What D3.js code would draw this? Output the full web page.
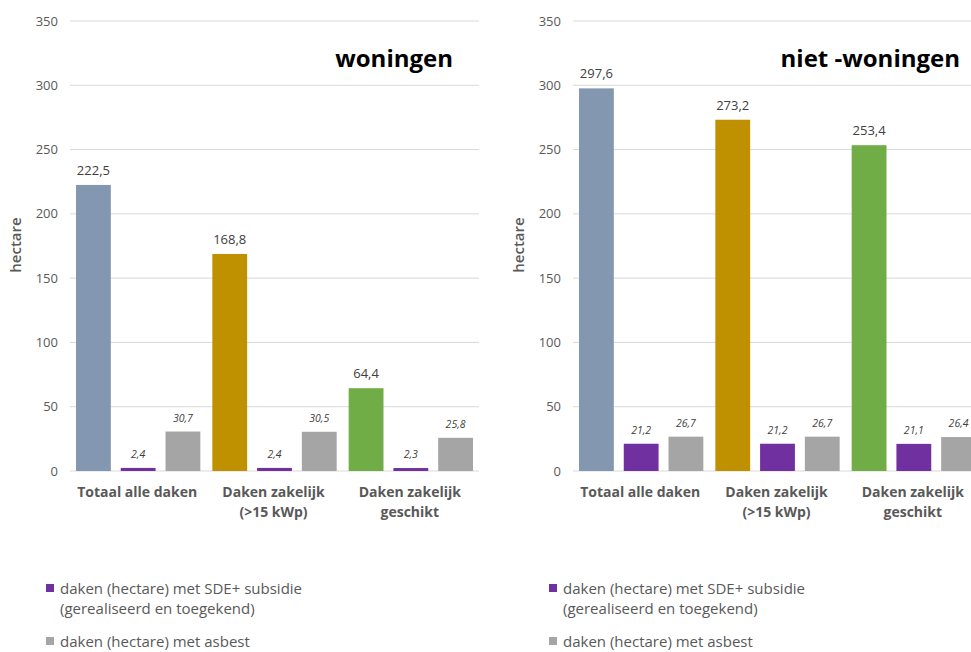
<!DOCTYPE html>
<html>
<head>
<meta charset="utf-8">
<script src="https://cdn.jsdelivr.net/npm/d3@7"></script>
<style>
  body { margin: 0; background: #fff; }
  svg { display: block; font-family: 'Open Sans', sans-serif; }
</style>
</head>
<body>
<svg id="chart" width="971" height="652"></svg>
<script>
// categorieën (x-as), twee regels per label
const categories = ['Totaal alle daken', 'Daken zakelijk (>15 kWp)', 'Daken zakelijk geschikt']
const category_lines = [['Totaal alle daken'], ['Daken zakelijk', '(>15 kWp)'], ['Daken zakelijk', 'geschikt']]
const series = ['totaal', 'sde', 'asbest']

// woningen
const woningen_totaal = [222.5, 168.8, 64.4]
const woningen_sde = [2.4, 2.4, 2.3]
const woningen_asbest = [30.7, 30.5, 25.8]

// niet-woningen
const niet_totaal = [297.6, 273.2, 253.4]
const niet_sde = [21.2, 21.2, 21.1]
const niet_asbest = [26.7, 26.7, 26.4]

const y_ticks = [0, 50, 100, 150, 200, 250, 300, 350]
const legend_items = [
  { key: 'sde', lines: ['daken (hectare) met SDE+ subsidie', '(gerealiseerd en toegekend)'] },
  { key: 'asbest', lines: ['daken (hectare) met asbest'] }
]

// kleuren
const total_colors = ['#8497B0', '#BF9000', '#70AD47']
const series_color = { sde: '#7030A0', asbest: '#A5A5A5' }
const text_grey = '#595959'

const fmt = v => v.toFixed(1).replace('.', ',')

const svg = d3.select('#chart')

// Maakt een paneel: offset x, titel en de drie reeksen
const create_panel = (opts) => {
  const { left, title, title_right, totaal, sde, asbest } = opts
  const top = 21, bottom = 471, width = 409

  const g = svg.append('g')

  const y = d3.scaleLinear().domain([0, 350]).range([bottom, top])
  const x = d3.scaleBand().domain(categories).range([left, left + width])
  const x_inner = d3.scaleBand().domain(series)
    .range([6, x.bandwidth() - 6]).paddingInner(0.222)

  // rasterlijnen
  g.selectAll('.grid')
    .data(y_ticks)
    .enter()
    .append('line')
    .attr('x1', left).attr('x2', left + width)
    .attr('y1', d => y(d)).attr('y2', d => y(d))
    .attr('stroke', '#D9D9D9').attr('stroke-width', 1)

  // y as labels
  g.selectAll('.ytick')
    .data(y_ticks)
    .enter()
    .append('text')
    .attr('x', left - 12)
    .attr('y', d => y(d))
    .attr('dy', '0.35em')
    .attr('text-anchor', 'end')
    .attr('font-size', 13)
    .attr('fill', text_grey)
    .text(d => d)

  // as titel
  g.append('text')
    .attr('transform', `translate(${left - 49}, 245) rotate(-90)`)
    .attr('text-anchor', 'middle')
    .attr('font-size', 15)
    .attr('font-weight', 600)
    .attr('fill', text_grey)
    .text('hectare')

  // data per balk
  const rows = []
  categories.forEach((c, i) => {
    rows.push({ cat: c, key: 'totaal', value: totaal[i], color: total_colors[i] })
    rows.push({ cat: c, key: 'sde', value: sde[i], color: series_color.sde })
    rows.push({ cat: c, key: 'asbest', value: asbest[i], color: series_color.asbest })
  })

  g.selectAll('.bar')
    .data(rows)
    .enter()
    .append('rect')
    .attr('x', d => x(d.cat) + x_inner(d.key))
    .attr('y', d => y(d.value))
    .attr('width', x_inner.bandwidth())
    .attr('height', d => y(0) - y(d.value))
    .attr('fill', d => d.color)

  // waarde labels
  g.selectAll('.val')
    .data(rows)
    .enter()
    .append('text')
    .attr('x', d => x(d.cat) + x_inner(d.key) + x_inner.bandwidth() / 2)
    .attr('y', d => y(d.value) - 10)
    .attr('text-anchor', 'middle')
    .attr('font-size', d => d.key == 'totaal' ? 13 : 10.5)
    .attr('font-style', d => d.key == 'totaal' ? 'normal' : 'italic')
    .attr('fill', '#404040')
    .text(d => fmt(d.value))

  // categorie labels
  const cat_g = g.selectAll('.cat')
    .data(categories)
    .enter()
    .append('text')
    .attr('text-anchor', 'middle')
    .attr('font-size', 14)
    .attr('font-weight', 'bold')
    .attr('fill', text_grey)

  cat_g.selectAll('tspan')
    .data((d, i) => category_lines[i].map(l => ({ line: l, cat: d })))
    .enter()
    .append('tspan')
    .attr('x', d => x(d.cat) + x.bandwidth() / 2 - 1)
    .attr('y', (d, i) => 497 + i * 20)
    .text(d => d.line)

  // titel
  g.append('text')
    .attr('x', title_right)
    .attr('y', 67)
    .attr('text-anchor', 'end')
    .attr('font-size', 24)
    .attr('font-weight', 'bold')
    .attr('fill', '#000')
    .text(title)

  // legenda
  const leg = g.append('g').attr('transform', `translate(${left - 24}, 0)`)
  legend_items.forEach((item, i) => {
    const base = i == 0 ? 594 : 647
    leg.append('rect')
      .attr('x', 0).attr('y', base - 10)
      .attr('width', 8).attr('height', 8)
      .attr('fill', series_color[item.key])
    item.lines.forEach((l, j) => {
      leg.append('text')
        .attr('x', 14)
        .attr('y', base + j * 20)
        .attr('font-size', 15)
        .attr('fill', text_grey)
        .text(l)
    })
  })
}

create_panel({ left: 70, title: 'woningen', title_right: 453,
  totaal: woningen_totaal, sde: woningen_sde, asbest: woningen_asbest })
create_panel({ left: 573, title: 'niet -woningen', title_right: 960,
  totaal: niet_totaal, sde: niet_sde, asbest: niet_asbest })
</script>
</body>
</html>
